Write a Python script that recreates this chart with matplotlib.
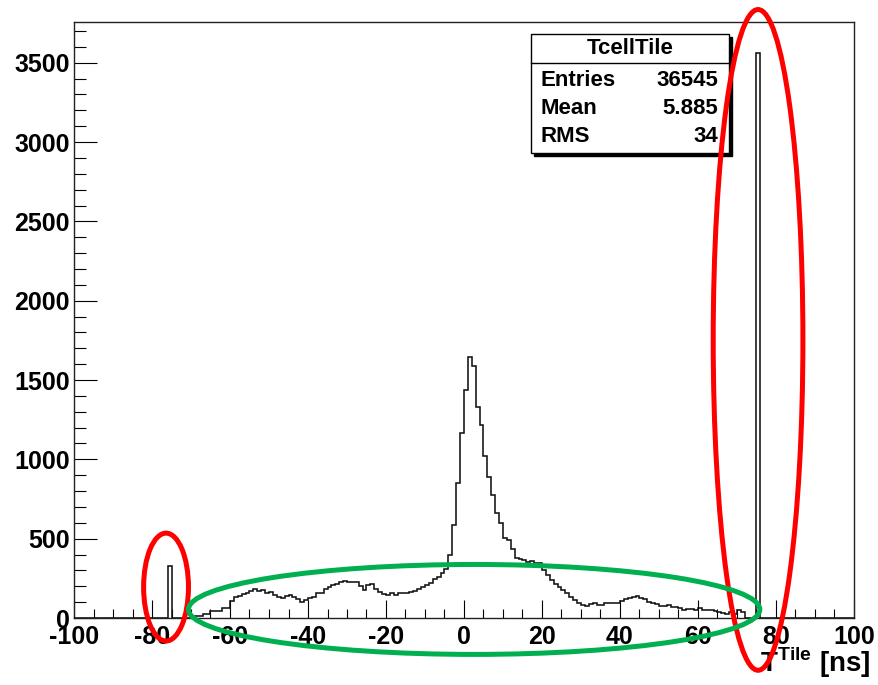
import numpy as np
import matplotlib
matplotlib.use("Agg")
import matplotlib.pyplot as plt
from matplotlib.patches import Ellipse, Rectangle
from matplotlib.ticker import MultipleLocator

plt.rcParams['font.family'] = ['Liberation Sans', 'DejaVu Sans']
plt.rcParams['mathtext.fontset'] = 'custom'
plt.rcParams['mathtext.bf'] = 'Liberation Sans:bold'
plt.rcParams['mathtext.rm'] = 'Liberation Sans'
plt.rcParams['axes.unicode_minus'] = False

# ---------------- data ----------------
bin_low, bin_high, bin_width = -100, 100, 1

core_start = -70
core_counts = [
    5, 12, 15, 25, 25, 42, 42, 45, 60, 62,            # -70 .. -61
    105, 130, 138, 150, 160, 172, 183, 172, 175, 155,  # -60 .. -51
    166, 145, 134, 124, 139, 145, 134, 118, 103, 113,  # -50 .. -41
    124, 130, 155, 160, 181, 193, 208, 214, 229, 235,  # -40 .. -31
    229, 224, 230, 200, 178, 205, 215, 182, 166, 152,  # -30 .. -21
    145, 155, 142, 155, 160, 160, 166, 172, 183, 193,  # -20 .. -11
    208, 223, 244, 260, 281, 307, 397, 586, 853, 1164, # -10 .. -1
    1437, 1648, 1589, 1332, 1217, 1021, 891, 775, 660, 597,  # 0 .. 9
    502, 492, 433, 380, 372, 366, 352, 362, 349, 345,  # 10 .. 19
    300, 270, 240, 215, 195, 176, 155, 130, 112, 97,   # 20 .. 29
    85, 75, 88, 95, 85, 82, 92, 95, 92, 96,            # 30 .. 39
    105, 118, 126, 132, 136, 125, 118, 103, 95, 86,    # 40 .. 49
    78, 76, 80, 70, 68, 60, 52, 55, 55, 50,            # 50 .. 59
    60, 50, 50, 48, 45, 35, 32, 25, 40, 25,            # 60 .. 69
    48, 38, 0, 0, 0,                                   # 70 .. 74
]
spike_bins = [-76, 75]
spike_counts = [330, 3560]

stats_title = "TcellTile"
stats_labels = ["Entries", "Mean", "RMS"]
stats_values = ["36545", "5.885", "34"]

x_ticks = list(range(-100, 101, 20))
y_ticks = list(range(0, 3501, 500))

# ---------------- build histogram ----------------
edges = np.arange(bin_low, bin_high + bin_width, bin_width)
counts = np.zeros(len(edges) - 1)
for i, c in enumerate(core_counts):
    counts[core_start + i - bin_low] = c
for b, c in zip(spike_bins, spike_counts):
    counts[b - bin_low] = c

W, H = 879, 685
fig = plt.figure(figsize=(W / 100, H / 100), dpi=100)
fig.patch.set_facecolor('white')


def fx(x):
    return x / W


def fy(y):
    return 1 - y / H


ax = fig.add_axes([fx(74), fy(618), 780 / W, 596 / H])
ax.stairs(counts, edges, color='#111111', lw=1.15, baseline=0, zorder=3)
ax.set_xlim(bin_low, bin_high)
ax.set_ylim(0, 3757)

ax.set_xticks(x_ticks)
ax.set_yticks(y_ticks)
ax.xaxis.set_minor_locator(MultipleLocator(5))
ax.yaxis.set_minor_locator(MultipleLocator(100))
ax.tick_params(axis='x', which='major', direction='in', length=13, width=0.8,
               pad=5, labelsize=18)
ax.tick_params(axis='x', which='minor', direction='in', length=6.5, width=0.8)
ax.tick_params(axis='y', which='major', direction='in', length=16.5, width=0.8,
               pad=3, labelsize=18)
ax.tick_params(axis='y', which='minor', direction='in', length=8.3, width=0.8)
for lab in ax.get_xticklabels() + ax.get_yticklabels():
    lab.set_fontweight('bold')
for s in ax.spines.values():
    s.set_linewidth(1.0)
    s.set_color('#222222')

# x axis title
ax.text(fx(871), fy(672), r'$\mathbf{T}^{\mathbf{Tile}}$ [ns]', transform=fig.transFigure,
        ha='right', va='baseline', fontsize=20, fontweight='bold', zorder=5)

# stats box
x0, x1, y0, y1 = 531, 729, 34, 153
ax.add_patch(Rectangle((fx(x0 + 3), fy(y1 + 3)), (x1 - x0) / W, (y1 - y0) / H,
                       transform=fig.transFigure, facecolor='black', edgecolor='black',
                       clip_on=False, zorder=6))
ax.add_patch(Rectangle((fx(x0), fy(y1)), (x1 - x0) / W, (y1 - y0) / H,
                       transform=fig.transFigure, facecolor='white', edgecolor='black',
                       lw=1.0, clip_on=False, zorder=7))
ax.plot([fx(x0), fx(x1)], [fy(63), fy(63)], transform=fig.transFigure, color='black',
        lw=1.0, clip_on=False, zorder=8)
ax.text(fx(630), fy(49), stats_title, transform=fig.transFigure, ha='center', va='center',
        fontsize=16, fontweight='bold', zorder=9)
for i, (lab, val) in enumerate(zip(stats_labels, stats_values)):
    yy = 80 + i * 28.5
    ax.text(fx(541), fy(yy), lab, transform=fig.transFigure, ha='left', va='center',
            fontsize=16, fontweight='bold', zorder=9)
    ax.text(fx(718), fy(yy), val, transform=fig.transFigure, ha='right', va='center',
            fontsize=16, fontweight='bold', zorder=9)

# highlight ellipses (annotations)
red = '#ff0000'
green = '#00b050'
ax.add_patch(Ellipse((-76.4, 195), 11.5, 680, fill=False, edgecolor=red, lw=3.6,
                     clip_on=False, zorder=10))
ax.add_patch(Ellipse((75.4, 1753), 23.0, 4165, fill=False, edgecolor=red, lw=3.6,
                     clip_on=False, zorder=10))
ax.add_patch(Ellipse((2.6, 54), 146.5, 567, fill=False, edgecolor=green, lw=3.6,
                     clip_on=False, zorder=10))

fig.savefig('out.png', dpi=100, facecolor='white')
